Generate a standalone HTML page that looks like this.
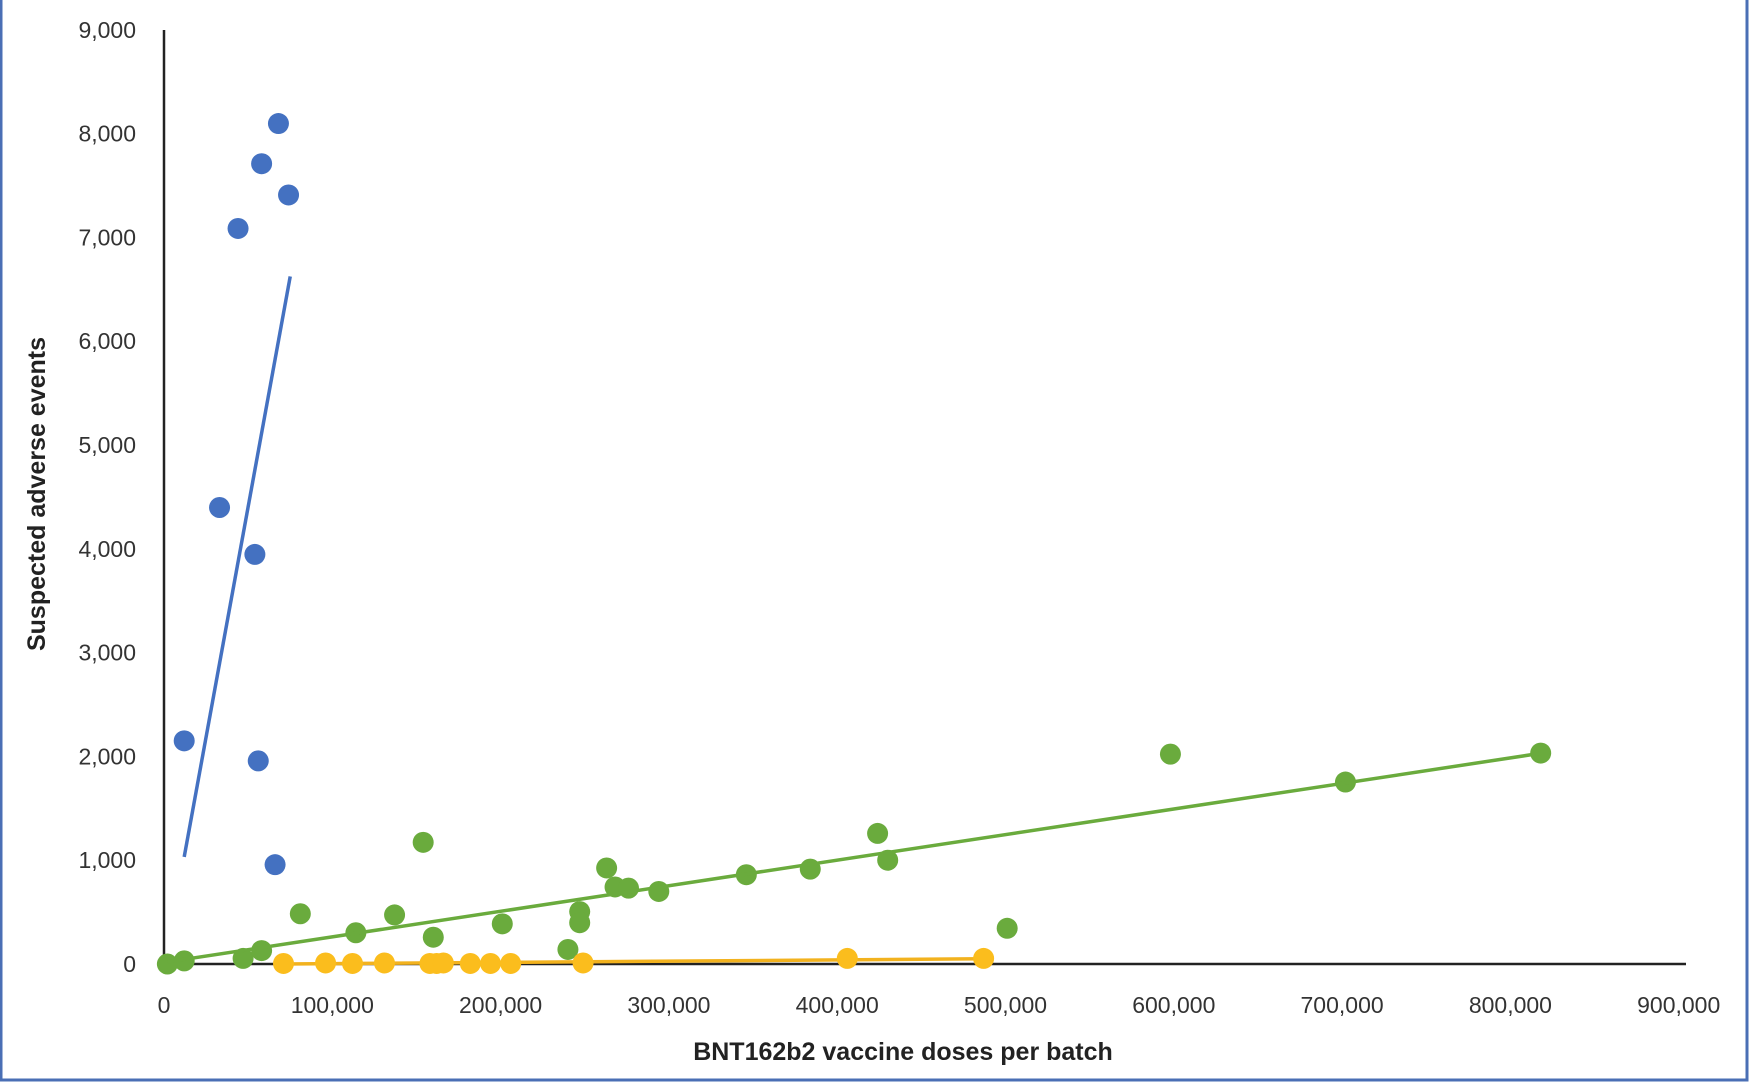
<!DOCTYPE html>
<html><head><meta charset="utf-8"><style>
html,body{margin:0;padding:0;background:#fff}
svg{display:block;font-family:"Liberation Sans",sans-serif}
</style></head><body>
<svg id="chart" width="1749" height="1083">
<rect x="1" y="-2" width="1746" height="1082" fill="#fff" stroke="#4a6fb5" stroke-width="3"/>
<g id="ticks"></g>
<line x1="164" y1="30" x2="164" y2="964" stroke="#222" stroke-width="2.5"/>
<line x1="164" y1="964" x2="1686" y2="964" stroke="#222" stroke-width="2.5"/>
<g id="marks"></g>
<text x="903" y="1060" text-anchor="middle" font-size="25" font-weight="bold" fill="#222">BNT162b2 vaccine doses per batch</text>
<text transform="translate(45,494) rotate(-90)" text-anchor="middle" font-size="25" font-weight="bold" fill="#222">Suspected adverse events</text>
</svg>
<script>
const xTicks=[0,100000,200000,300000,400000,500000,600000,700000,800000,900000];
const yTicks=[0,1000,2000,3000,4000,5000,6000,7000,8000,9000];
const blueX=[68000,58000,74000,44000,33000,54000,12000,56000,66000];
const blueY=[8097,7710,7409,7086,4398,3946,2150,1957,957];
const blueTrendX=[12000,75000];
const blueTrendY=[1032,6624];
const greenX=[2000,12000,47000,58000,81000,114000,137000,154000,160000,201000,240000,247000,247000,263000,268000,276000,294000,346000,384000,424000,430000,501000,598000,702000,818000];
const greenY=[0,30,54,129,484,301,473,1172,258,387,140,505,398,925,742,731,699,860,914,1258,1000,344,2022,1753,2032];
const greenTrendX=[2000,818000];
const greenTrendY=[20,2030];
const yellowX=[71000,96000,112000,131000,158000,162000,166000,182000,194000,206000,249000,406000,487000];
const yellowY=[5,10,5,10,5,5,10,5,5,5,10,54,54];
const yellowTrendX=[71000,487000];
const yellowTrendY=[0,50];

const X=v=>164+v/100000*168.3;
const Y=v=>964-v/1000*103.8;
const NS="http://www.w3.org/2000/svg";
const ticks=document.getElementById('ticks'), marks=document.getElementById('marks');
const fmt=v=>v.toLocaleString('en-US');
function mk(tag,attrs,parent){const e=document.createElementNS(NS,tag);for(const k in attrs)e.setAttribute(k,attrs[k]);parent.appendChild(e);return e;}
xTicks.forEach(v=>{
  const t=mk('text',{x:X(v),y:1013,'text-anchor':'middle','font-size':23,fill:'#333'},ticks);
  
  
  t.textContent=fmt(v);
});
yTicks.forEach(v=>{
  const t=mk('text',{x:136,y:Y(v)+8,'text-anchor':'end','font-size':23,fill:'#333'},ticks);
  
  
  t.textContent=fmt(v);
});
function series(xs,ys,color,name){
  xs.forEach((x,i)=>{
    const c=mk('circle',{cx:X(x),cy:Y(ys[i]),r:10.5,fill:color},marks);
    
    
  });
}
function trend(xs,ys,color,name){
  const l=mk('line',{x1:X(xs[0]),y1:Y(ys[0]),x2:X(xs[1]),y2:Y(ys[1]),stroke:color,'stroke-width':3.5},marks);
  
  
}
trend(yellowTrendX,yellowTrendY,'#f2b21e','yellow');
series(greenX,greenY,'#6aab3d','green');
trend(greenTrendX,greenTrendY,'#6aab3d','green');
series(yellowX,yellowY,'#fbbd1d','yellow');
series(blueX,blueY,'#4471c1','blue');
trend(blueTrendX,blueTrendY,'#4471c1','blue');
</script>
</body></html>
